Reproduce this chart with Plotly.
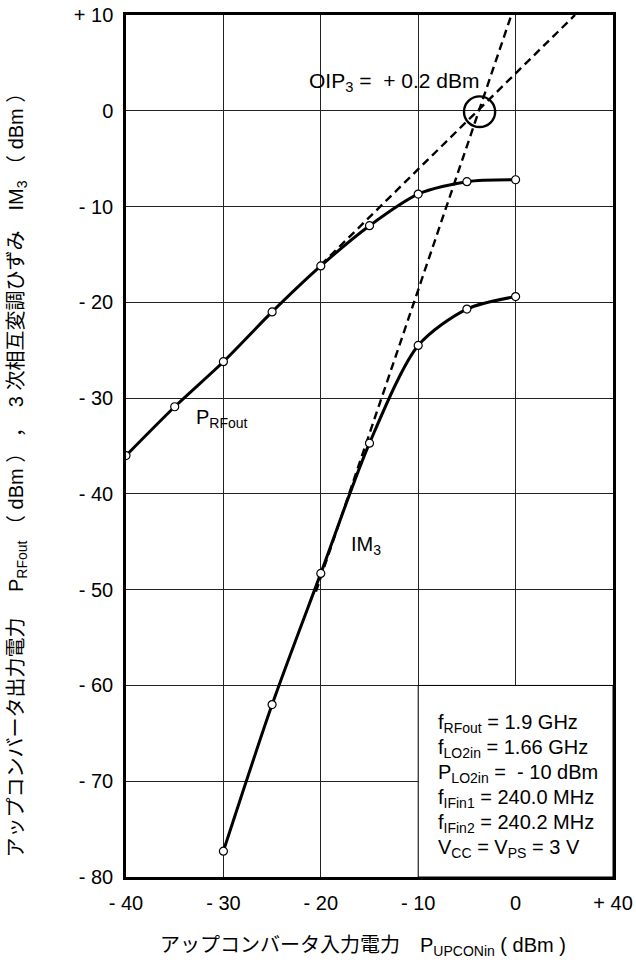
import plotly.graph_objects as go

# Up-converter output power and 3rd-order intermodulation vs. input power
pin_prf = [-40, -35, -30, -25, -20, -15, -10, -5, 0]
prf_out = [-36.0, -30.9, -26.2, -21.0, -16.2, -12.0, -8.7, -7.4, -7.2]

pin_im3 = [-30, -25, -20, -15, -10, -5, 0]
im3_out = [-77.3, -62.0, -48.3, -34.7, -24.5, -20.7, -19.4]

# Output third-order intercept point
oip3_dbm = 0.2
oip3_pin = -3.7

x_tick_vals = [-40, -30, -20, -10, 0, 10]
x_tick_text = ["- 40", "- 30", "- 20", "- 10", "0", "+ 40"]
y_tick_vals = [10, 0, -10, -20, -30, -40, -50, -60, -70, -80]
y_tick_text = ["+ 10", "0", "- 10", "- 20", "- 30", "- 40", "- 50", "- 60", "- 70", "- 80"]

conditions = [
    "f<sub>RFout</sub> = 1.9 GHz",
    "f<sub>LO2in</sub> = 1.66 GHz",
    "P<sub>LO2in</sub> =  - 10 dBm",
    "f<sub>IFin1</sub> = 240.0 MHz",
    "f<sub>IFin2</sub> = 240.2 MHz",
    "V<sub>CC</sub> = V<sub>PS</sub> = 3 V",
]

FONT = "Liberation Sans, Arial, Noto Sans CJK JP, sans-serif"
X_MIN, X_MAX, Y_MIN, Y_MAX = -40, 10, -80, 10

# Extrapolated 1:1 and 3:1 lines through the intercept point, up to the top edge
fund_x = [-20, oip3_pin + (Y_MAX - oip3_dbm)]
fund_y = [oip3_dbm + (x - oip3_pin) for x in fund_x]
im_x = [-20.5, oip3_pin + (Y_MAX - oip3_dbm) / 3]
im_y = [oip3_dbm + 3 * (x - oip3_pin) for x in im_x]

fig = go.Figure()

dash_style = dict(color="black", width=2.4, dash="8px,5px")
fig.add_trace(go.Scatter(x=fund_x, y=fund_y, mode="lines", line=dash_style, hoverinfo="skip"))
fig.add_trace(go.Scatter(x=im_x, y=im_y, mode="lines", line=dash_style, hoverinfo="skip"))

marker_style = dict(size=8, color="white", line=dict(color="black", width=1.2))
fig.add_trace(go.Scatter(
    x=pin_prf, y=prf_out, mode="lines+markers",
    line=dict(color="black", width=3, shape="spline", smoothing=0.8),
    marker=marker_style, name="PRFout",
))
fig.add_trace(go.Scatter(
    x=pin_im3, y=im3_out, mode="lines+markers",
    line=dict(color="black", width=3, shape="spline", smoothing=0.8),
    marker=marker_style, name="IM3",
))

# Conditions box, covering the grid in the lower right corner
fig.add_shape(type="rect", xref="x", yref="y", x0=-10, x1=10, y0=-80, y1=-60,
              fillcolor="white", line=dict(color="black", width=1), layer="between")

# Circle marking the intercept point
fig.add_shape(type="circle", xref="x", yref="y",
              x0=oip3_pin - 1.6, x1=oip3_pin + 1.6,
              y0=oip3_dbm - 1.9, y1=oip3_dbm + 1.3,
              line=dict(color="black", width=2.4), layer="above")

ann_font = dict(family=FONT, size=20, color="black")
annotations = [
    dict(x=-12.5, y=3.0, text="OIP<sub>3</sub> =  + 0.2 dBm", font=dict(family=FONT, size=21, color="black")),
    dict(x=-30.1, y=-32.1, text="P<sub>RFout</sub>", font=ann_font),
    dict(x=-15.4, y=-45.4, text="IM<sub>3</sub>", font=ann_font),
]
for a in annotations:
    a.update(xref="x", yref="y", showarrow=False, xanchor="center", yanchor="middle")

line_y0, line_step = -64.0, -2.6
for i, txt in enumerate(conditions):
    annotations.append(dict(
        x=-8.2, y=line_y0 + i * line_step, xref="x", yref="y", text=txt,
        showarrow=False, xanchor="left", yanchor="middle", font=ann_font,
    ))

annotations.append(dict(
    x=0.486, y=-0.081, xref="paper", yref="paper", showarrow=False,
    text="アップコンバータ入力電力　P<sub>UPCONin</sub> ( dBm )",
    xanchor="center", yanchor="middle", font=dict(family=FONT, size=20, color="black"),
))
annotations.append(dict(
    x=-0.223, y=0.472, xref="paper", yref="paper", showarrow=False, textangle=-90,
    text="アップコンバータ出力電力　 P<sub>RFout</sub> （ dBm ） ，　3 次相互変調ひずみ　IM<sub>3</sub> （ dBm ）",
    xanchor="center", yanchor="middle", font=dict(family=FONT, size=20, color="black"),
))

axis_common = dict(
    showline=True, linecolor="black", linewidth=2.5, mirror=True,
    showgrid=True, gridcolor="#222", gridwidth=1, zeroline=False,
    ticks="", automargin=False, tickfont=dict(family=FONT, size=20, color="black"),
)

fig.update_layout(
    width=636, height=978,
    margin=dict(l=126, r=23, t=15, b=101),
    paper_bgcolor="white", plot_bgcolor="white",
    showlegend=False,
    font=dict(family=FONT, color="black"),
    annotations=annotations,
    xaxis=dict(range=[X_MIN, X_MAX], tickvals=x_tick_vals, ticktext=x_tick_text,
               ticklabelstandoff=6, **axis_common),
    yaxis=dict(range=[Y_MIN, Y_MAX], tickvals=y_tick_vals, ticktext=y_tick_text,
               ticklabelstandoff=6, **axis_common),
)

fig.write_html("out.html")
